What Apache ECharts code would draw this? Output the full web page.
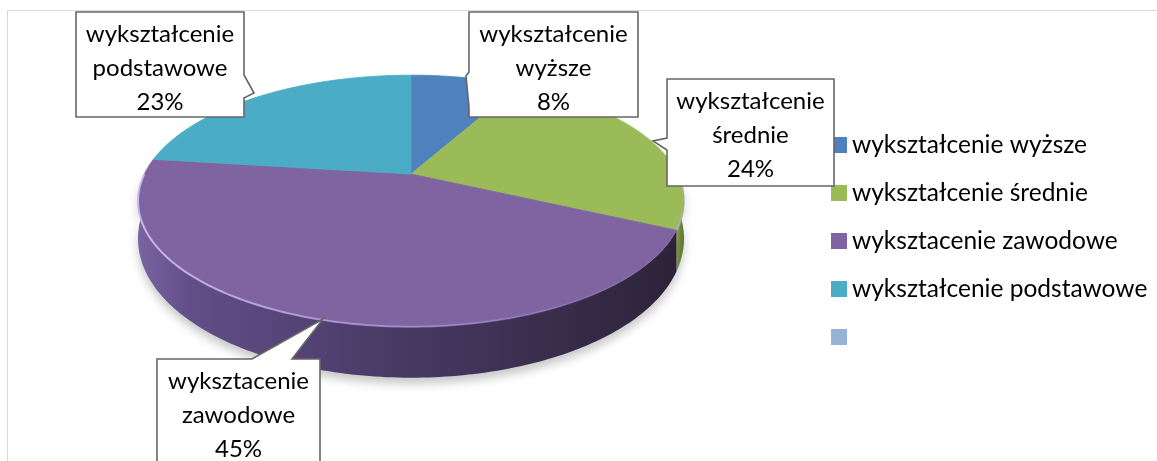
<!DOCTYPE html>
<html>
<head>
<meta charset="utf-8">
<script src="https://cdn.jsdelivr.net/npm/echarts@6/dist/echarts.min.js"></script>
<style>
html, body { margin: 0; padding: 0; background: #fff; }
#chart { width: 1157px; height: 461px; }
</style>
</head>
<body>
<div id="chart"></div>
<script>
// dane
var categories = ['wykształcenie wyższe', 'wykształcenie średnie', 'wyksztacenie zawodowe', 'wykształcenie podstawowe', ' '];
var labelNames = ['wykształcenie\nwyższe', 'wykształcenie\nśrednie', 'wyksztacenie\nzawodowe', 'wykształcenie\npodstawowe', ''];
var values = [8, 24, 45, 23, 0];
var colors = ['#4f81bd', '#9bbb59', '#8064a2', '#4bacc6', '#95b3d7'];

var FONT = 'Lato';
var total = values.reduce(function (a, b) { return a + b; }, 0);
var starts = [];
var acc = 0;
for (var i = 0; i < values.length; i++) { starts.push(acc); acc += values[i]; }

// perspektywa 3d (kąt od góry, zgodnie z zegarem)
var K = 0.214;
function proj(deg) {
    var r = deg * Math.PI / 180;
    var u = Math.sin(r), v = -Math.cos(r);
    var d = 1 - K * v;
    return [u / d, v / d, v];
}
function depth(v) { return (34 + 17 * v) / 120; }
function arcAngles(a0, a1) {
    var out = [];
    var n = Math.max(2, Math.ceil((a1 - a0) / 1));
    for (var j = 0; j <= n; j++) out.push(a0 + (a1 - a0) * j / n);
    return out;
}

var wallStops = [
    null,
    [[0, '#86a24a'], [1, '#5b732f']],
    [[0, '#7963a2'], [0.1, '#624d88'], [0.45, '#4a3b67'], [1, '#2c2338']],
    null,
    null
];

// ramki etykiet (uklad)
var boxes = [
    { x: 469, y: 12, w: 169, h: 105, side: 'left', ptr: [[469, 107], [466, 76], [469, 72]] },
    { x: 667, y: 79, w: 167, h: 107, side: 'left', ptr: [[667, 150], [653, 141], [667, 138]] },
    { x: 157, y: 359, w: 163, h: 112, side: 'top', ptr: [[252, 359], [323, 319], [292, 359]] },
    { x: 76, y: 12, w: 168, h: 105, side: 'right', ptr: [[244, 75], [254, 93], [244, 98]] }
];

function calloutPoints(b) {
    var x0 = b.x, y0 = b.y, x1 = b.x + b.w, y1 = b.y + b.h;
    var pts = [[x0, y0]];
    if (b.side == 'top') pts = pts.concat(b.ptr);
    pts.push([x1, y0]);
    if (b.side == 'right') pts = pts.concat(b.ptr);
    pts.push([x1, y1]);
    if (b.side == 'bottom') pts = pts.concat(b.ptr);
    pts.push([x0, y1]);
    if (b.side == 'left') pts = pts.concat(b.ptr);
    return pts;
}

function sliceSeries(i) {
    return {
        name: categories[i],
        type: 'custom',
        coordinateSystem: 'cartesian2d',
        itemStyle: { color: colors[i] },
        clip: false,
        silent: true,
        data: [[0, values[i]]],
        renderItem: function (params, api) {
            var val = api.value(1);
            var children = [];
            if (!val) return { type: 'group', children: children };
            var a0 = starts[i] / total * 360, a1 = (starts[i] + val) / total * 360;

            // bok
            var w0 = Math.max(a0, 90), w1 = Math.min(a1, 270);
            if (w1 > w0 && wallStops[i]) {
                var topPts = [], botPts = [];
                arcAngles(w0, w1).forEach(function (a) {
                    var p = proj(a);
                    topPts.push(api.coord([p[0], p[1]]));
                    botPts.unshift(api.coord([p[0], p[1] + depth(p[2])]));
                });
                children.push({
                    type: 'polygon',
                    shape: { points: topPts.concat(botPts) },
                    style: {
                        fill: new echarts.graphic.LinearGradient(0, 0, 1, 0, wallStops[i].map(function (s) { return { offset: s[0], color: s[1] }; })),
                        shadowBlur: 10,
                        shadowOffsetY: 6,
                        shadowColor: 'rgba(0,0,0,0.22)'
                    }
                });
            }

            // wierzch
            var pts = [api.coord([0, 0])];
            arcAngles(a0, a1).forEach(function (a) {
                var p = proj(a);
                pts.push(api.coord([p[0], p[1]]));
            });
            children.push({
                type: 'polygon',
                shape: { points: pts },
                style: { fill: colors[i], stroke: colors[i], lineWidth: 0.8 }
            });

            // jasna krawedz z przodu
            if (w1 > w0) {
                var rim = [];
                arcAngles(w0, w1).forEach(function (a) {
                    var p = proj(a);
                    rim.push(api.coord([p[0], p[1]]));
                });
                children.push({
                    type: 'polyline',
                    shape: { points: rim },
                    style: {
                        fill: null,
                        lineWidth: 2,
                        stroke: new echarts.graphic.LinearGradient(0, 0, 1, 0, [
                            { offset: 0, color: 'rgba(205,190,240,0.95)' },
                            { offset: 0.6, color: 'rgba(180,160,220,0.5)' },
                            { offset: 1, color: 'rgba(160,140,200,0)' }
                        ])
                    }
                });
            }
            return { type: 'group', children: children };
        }
    };
}

var series = [];
for (var s = 0; s < values.length; s++) series.push(sliceSeries(s));

// etykiety
series.push({
    name: 'etykiety',
    type: 'custom',
    coordinateSystem: 'cartesian2d',
    clip: false,
    silent: true,
    z: 5,
    data: values.map(function (v, k) { return [k, v]; }),
    renderItem: function (params, api) {
        var k = params.dataIndex;
        var b = boxes[k];
        if (!api.value(1) || !b) return { type: 'group', children: [] };
        var pct = Math.round(api.value(1) / total * 100) + '%';
        return {
            type: 'group',
            children: [
                {
                    type: 'polygon',
                    shape: { points: calloutPoints(b) },
                    style: { fill: '#fff', stroke: '#666', lineWidth: 1.6 }
                },
                {
                    type: 'text',
                    style: {
                        text: labelNames[k] + '\n' + pct,
                        x: b.x + b.w / 2,
                        y: b.y + 56,
                        align: 'center',
                        verticalAlign: 'middle',
                        fontFamily: FONT,
                        fontSize: 24,
                        lineHeight: 34,
                        fill: '#000'
                    }
                }
            ]
        };
    }
});

var myChart = echarts.init(document.getElementById('chart'));
option = {
    backgroundColor: '#fff',
    animation: false,
    grid: { left: 91, width: 640, top: 30, height: 336 },
    xAxis: {
        type: 'value', min: -1.2, max: 1.2,
        show: false
    },
    yAxis: {
        type: 'value', min: -1.2, max: 1.6, inverse: true,
        show: false
    },
    legend: {
        orient: 'vertical',
        left: 826,
        top: 127,
        itemWidth: 16,
        itemHeight: 16,
        itemGap: 22,
        icon: 'rect',
        selectedMode: false,
        data: categories,
        textStyle: { fontFamily: FONT, fontSize: 24.5, lineHeight: 26, color: '#000' }
    },
    graphic: [
        {
            type: 'rect',
            silent: true,
            shape: { x: 7.5, y: 10.5, width: 1200, height: 500 },
            style: { fill: null, stroke: '#d9d9d9', lineWidth: 1 },
            z: -1
        }
    ],
    series: series
};
myChart.setOption(option);
</script>
</body>
</html>
